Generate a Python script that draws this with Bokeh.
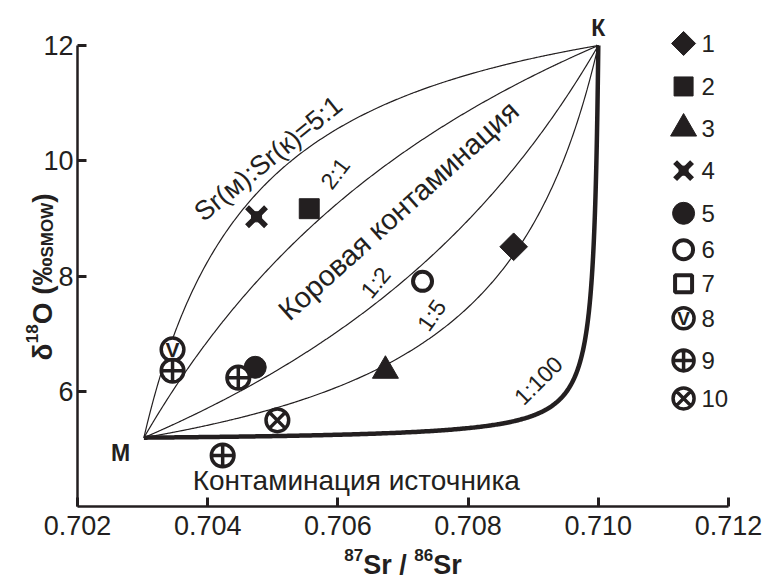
import numpy as np
from bokeh.plotting import figure
from bokeh.models import FixedTicker, PrintfTickFormatter, Range1d, Label
from bokeh.core.properties import value
from bokeh.embed import file_html
from bokeh.resources import INLINE

INK = "#231f20"
FONT = "Liberation Sans"

# ---------------- data ----------------
# end-members (87Sr/86Sr, d18O)
end_M = (0.70302, 5.20)
end_K = (0.71000, 12.00)

# Sr(M):Sr(K) ratios of the mixing curves
ratio_labels = ["Sr(м):Sr(к)=5:1", "2:1", "1:2", "1:5", "1:100"]
ratio_values = [5.0, 2.0, 0.5, 0.2, 0.01]

# samples, groups 1..10
group_names = ["1", "2", "3", "4", "5", "6", "7", "8", "9", "10"]
s1_x = [0.70870]; s1_y = [8.51]
s2_x = [0.70556]; s2_y = [9.17]
s3_x = [0.70673]; s3_y = [6.36]
s4_x = [0.70475]; s4_y = [9.03]
s5_x = [0.70473]; s5_y = [6.42]
s6_x = [0.70730]; s6_y = [7.91]
s7_x = []; s7_y = []
s8_x = [0.70346]; s8_y = [6.73]
s9_x = [0.70346, 0.70447, 0.70423]; s9_y = [6.36, 6.24, 4.89]
s10_x = [0.70507]; s10_y = [5.50]
samples_x = [s1_x, s2_x, s3_x, s4_x, s5_x, s6_x, s7_x, s8_x, s9_x, s10_x]
samples_y = [s1_y, s2_y, s3_y, s4_y, s5_y, s6_y, s7_y, s8_y, s9_y, s10_y]

x_ticks = [0.702, 0.704, 0.706, 0.708, 0.710, 0.712]
y_ticks = [6, 8, 10, 12]

# ---------------- layout of annotations (not data) ----------------
curve_label_x = [0.70493, 0.70596, 0.70658, 0.70744, 0.70908]
curve_label_y = [10.04, 9.78, 7.89, 7.32, 6.19]
curve_label_angle = [39, 53, 50, 55, 45]

region_text = ["Коровая контаминация"]
region_x = [0.70693]; region_y = [9.14]; region_angle = [42]
source_text = ["Контаминация источника"]
source_x = [0.70377]; source_y = [4.46]
end_text = ["М", "К"]
end_x = [0.70266, 0.71000]; end_y = [4.94, 12.31]

legend_x = 0.71131
legend_label_x = 0.711585
legend_rows_y = [12.035, 11.29, 10.56, 9.83, 9.09, 8.46, 7.87, 7.27, 6.54, 5.88]

# marker styles per group: (marker, size, fill, line_width, angle)
styles = [
    ("square", 17, INK, 1, np.pi / 4),
    ("square", 19, INK, 1, 0),
    ("triangle", 26, INK, 1, 0),
    ("star4", 24, None, 5.5, 0),
    ("circle", 22, INK, 1, 0),
    ("circle", 19, "white", 4, 0),
    ("square", 17, "white", 4, 0),
    ("circle_v", 21, "white", 3.5, 0),
    ("circle_cross", 21, "white", 3.5, 0),
    ("circle_x", 21, "white", 3.5, 0),
]

# ---------------- figure (frame fills the canvas, axes pinned) ----------------
W, H = 762, 583
PX_X = 65100.0      # pixels per unit of 87Sr/86Sr
PX_Y = 57.67        # pixels per permil
x0 = 0.702 - 77 / PX_X
y1 = 12 + 45 / PX_Y
p = figure(width=W, height=H,
           x_range=Range1d(x0, x0 + W / PX_X), y_range=Range1d(y1 - H / PX_Y, y1),
           output_backend="svg", toolbar_location=None,
           min_border=0)
p.outline_line_color = None
p.grid.visible = False

for ax in (p.xaxis[0], p.yaxis[0]):
    ax.axis_line_color = INK
    ax.axis_line_width = 2.5
    ax.major_tick_line_color = INK
    ax.major_tick_line_width = 3
    ax.major_tick_in = 9
    ax.major_tick_out = 0
    ax.minor_tick_line_color = None
    ax.major_label_text_font = FONT
    ax.major_label_text_font_size = "27px"
    ax.major_label_text_color = INK

p.xaxis.ticker = FixedTicker(ticks=x_ticks)
p.xaxis.formatter = PrintfTickFormatter(format="%.3f")
p.xaxis.bounds = (0.702, 0.712)
p.xaxis.fixed_location = 4
p.xaxis.major_label_standoff = 9

p.yaxis.ticker = FixedTicker(ticks=y_ticks)
p.yaxis.bounds = (4, 12)
p.yaxis.fixed_location = 0.702
p.yaxis.major_label_standoff = 4

# ---------------- axis titles (with true super/subscripts) ----------------
def piece(x, y, text, size, xo, yo, angle=0.0):
    p.add_layout(Label(x=x, y=y, x_offset=xo, y_offset=yo, text=text,
                       angle=angle, text_font=FONT, text_font_size=size,
                       text_font_style="bold", text_color=INK,
                       text_align="left", text_baseline="alphabetic"))

# x title: 87Sr / 86Sr, centred under the axis
xt_x, xt_y = 0.707, 4.0
big, small = 27, 17
w87 = 2 * 0.556 * small
wsr = (0.667 + 0.389) * big
wsl = (0.278 + 0.278 + 0.278) * big
xs0 = -(2 * w87 + 2 * wsr + wsl) / 2
base = -58
piece(xt_x, xt_y, "87", f"{small}px", xs0, base + 10)
piece(xt_x, xt_y, "Sr / ", f"{big}px", xs0 + w87, base)
piece(xt_x, xt_y, "86", f"{small}px", xs0 + w87 + wsr + wsl, base + 10)
piece(xt_x, xt_y, "Sr", f"{big}px", xs0 + 2 * w87 + wsr + wsl, base)

# y title: d18O (permil SMOW), rotated
yt_x, yt_y = 0.702, 6.54
big, small = 28, 17
bx = -35
segs = [("δ", big, 0.611 * big, 0),
        ("18", small, 2 * 0.556 * small, -11),
        ("O (", big, (0.778 + 0.278 + 0.333) * big, 0),
        ("‰", big, 1.0 * big, 0),
        ("SMOW", small, (0.667 + 0.833 + 0.778 + 0.944) * small, 5),
        (")", big, 0.333 * big, 0)]
acc = 0.0
for t, s, w, shift in segs:
    piece(yt_x, yt_y, t, f"{s}px", bx + shift, acc, angle=np.pi / 2)
    acc += w

# ---------------- mixing curves ----------------
f = np.unique(np.concatenate([np.linspace(0, 1, 801),
                              np.geomspace(1e-6, 1, 800),
                              1 - np.geomspace(1e-6, 1, 800)]))
xM, yM = end_M
xK, yK = end_K
for k in ratio_values:
    wm = (1 - f) * k
    cx = (f * xK + wm * xM) / (f + wm)
    cy = f * yK + (1 - f) * yM
    p.line(cx, cy, line_color=INK, line_width=4.5 if k < 0.05 else 1.2,
           line_join="round")

# ---------------- texts ----------------
p.text(x=curve_label_x[:1], y=curve_label_y[:1], text=ratio_labels[:1],
       angle=curve_label_angle[:1], angle_units="deg",
       text_font=value(FONT), text_font_size="27px", text_color=INK,
       text_align="center", text_baseline="middle")
p.text(x=curve_label_x[1:], y=curve_label_y[1:], text=ratio_labels[1:],
       angle=curve_label_angle[1:], angle_units="deg",
       text_font=value(FONT), text_font_size="23px", text_color=INK,
       text_align="center", text_baseline="middle")
p.text(x=region_x, y=region_y, text=region_text, angle=region_angle,
       angle_units="deg", text_font=value(FONT), text_font_size="29px",
       text_color=INK, text_align="center", text_baseline="middle")
p.text(x=source_x, y=source_y, text=source_text,
       text_font=value(FONT), text_font_size="28px", text_color=INK,
       text_align="left", text_baseline="middle")
p.text(x=end_x, y=end_y, text=end_text, text_font=value(FONT),
       text_font_size="23px", text_font_style="bold", text_color=INK,
       text_align="center", text_baseline="middle")

# ---------------- samples + legend ----------------
def draw(xs, ys, style, scale=1.0):
    marker, size, fill, lw, ang = style
    if marker == "star4":
        p.scatter(xs, ys, marker="x", size=size * scale, line_color=INK,
                  line_width=lw)
        p.scatter(xs, ys, marker="square", size=9 * scale, fill_color=INK,
                  line_color=INK)
        return
    if marker == "circle_v":
        p.scatter(xs, ys, marker="circle", size=size * scale, fill_color=fill,
                  line_color=INK, line_width=lw)
        p.text(xs, ys, text=["V"] * len(xs), text_font=value(FONT),
               text_font_size=f"{round(19 * scale)}px", text_font_style="bold",
               text_color=INK, text_align="center", text_baseline="middle")
        return
    p.scatter(xs, ys, marker=marker, size=size * scale, angle=ang,
              fill_color=fill, line_color=INK, line_width=lw)

data_scale = [1.15, 1.05, 1.0, 1.12, 1.0, 1.0, 1.0, 1.08, 1.08, 1.08]
for xs, ys, st, sc in zip(samples_x, samples_y, styles, data_scale):
    if xs:
        draw(xs, ys, st, sc)

for name, st, ly in zip(group_names, styles, legend_rows_y):
    draw([legend_x], [ly], st)
p.text(x=[legend_label_x] * len(group_names), y=legend_rows_y, text=group_names,
       text_font=value(FONT), text_font_size="24px", text_color=INK,
       text_align="left", text_baseline="middle")

open("out.html", "w").write(file_html(p, INLINE))
